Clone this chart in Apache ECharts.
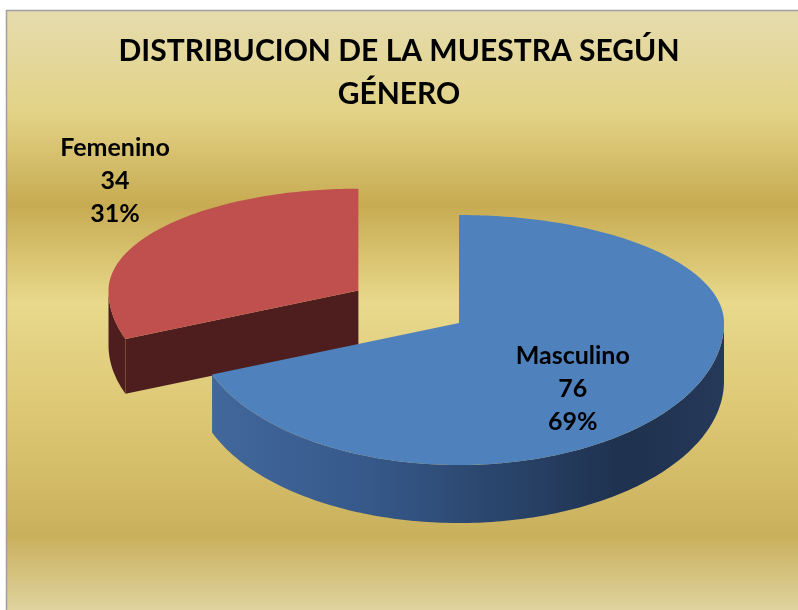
<!DOCTYPE html>
<html>
<head>
<meta charset="utf-8">
<script src="https://cdn.jsdelivr.net/npm/echarts@6/dist/echarts.min.js"></script>
<style>
  html, body { margin: 0; padding: 0; background: #fff; }
  #chart { width: 798px; height: 610px; }
</style>
</head>
<body>
<div id="chart"></div>
<script>
// datos del grafico
const categories = ['Masculino', 'Femenino'];
const counts = [76, 34];
const titleText = 'DISTRIBUCION DE LA MUESTRA SEGÚN\nGÉNERO';

// colores por sector
const topColors = ['#4f81bd', '#c0504d'];
const sideStops = [
  [[0, '#4d74ab'], [0.45, '#36598a'], [0.85, '#1e314e'], [1, '#26395a']],
  [[0, '#4e1e1f'], [1, '#4e1e1f']]
];

// layout del pastel 3d
const CX = 459, CY = 323;
const RX = 265, RY_FAR = 108, RY_NEAR = 142, DEPTH = 58;
const PERSP = 0.00176;
const explode = [0, 0.46];
const labelFactor = [[0.52, 0.46], [1.18, 1.9]];

const total = counts.reduce((a, b) => a + b, 0);
const rad = d => d * Math.PI / 180;

function pt(cx, cy, s, deg, dy) {
  const c = Math.cos(rad(deg));
  const ry = (c > 0 ? RY_FAR : RY_NEAR) * s;
  return [cx + RX * s * Math.sin(rad(deg)), cy - ry * c + (dy || 0)];
}

function arc(cx, cy, s, from, to, dy) {
  const pts = [];
  const n = Math.max(2, Math.ceil(Math.abs(to - from)));
  for (let k = 0; k <= n; k++) {
    pts.push(pt(cx, cy, s, from + (to - from) * k / n, dy));
  }
  return pts;
}

function renderItem(params, api) {
  const i = params.dataIndex;
  let start = 0;
  for (let j = 0; j < i; j++) start += counts[j];
  const a0 = start / total * 360;
  const a1 = (start + api.value(0)) / total * 360;
  const mid = (a0 + a1) / 2;
  const ex = explode[i];
  const cx = CX + Math.sin(rad(mid)) * ex * RX;
  const cy = CY - Math.cos(rad(mid)) * ex * (RY_FAR + RY_NEAR) / 2;
  const s = 1 + (cy - CY) * PERSP;
  const d = DEPTH * s;
  const zb = Math.round(cy);

  const sideFill = {
    type: 'linear', x: CX - RX - 120, y: 0, x2: CX + RX, y2: 0, global: true,
    colorStops: sideStops[i].map(st => ({ offset: st[0], color: st[1] }))
  };
  const children = [];

  // caras radiales
  const radial = (deg) => {
    const p = pt(cx, cy, s, deg);
    return {
      type: 'polygon', z2: zb,
      shape: { points: [[cx, cy], p, [p[0], p[1] + d], [cx, cy + d]] },
      style: { fill: sideStops[i][0][1] }
    };
  };
  if (Math.cos(rad(a0 - 90)) < -0.01) children.push(radial(a0));
  if (Math.cos(rad(a1 + 90)) < -0.01) children.push(radial(a1));

  // pared exterior visible (90..270)
  const lo = Math.max(a0, 90), hi = Math.min(a1, 270);
  if (hi > lo) {
    const pts = arc(cx, cy, s, lo, hi, 0).concat(arc(cx, cy, s, hi, lo, d));
    children.push({
      type: 'polygon', z2: zb + 1,
      shape: { points: pts },
      style: { fill: sideFill }
    });
  }

  // cara superior
  children.push({
    type: 'polygon', z2: zb + 2,
    shape: { points: [[cx, cy]].concat(arc(cx, cy, s, a0, a1, 0)) },
    style: { fill: topColors[i] }
  });

  // etiqueta
  const f = labelFactor[i];
  const c = Math.cos(rad(mid));
  const lx = cx + Math.sin(rad(mid)) * RX * s * f[0];
  const ly = cy - c * (c > 0 ? RY_FAR : RY_NEAR) * s * f[1] + (f[0] < 1 ? d / 2 : 0);
  children.push({
    type: 'text', z2: 1000,
    x: lx, y: ly,
    style: {
      text: categories[i] + '\n' + counts[i] + '\n' + Math.round(counts[i] / total * 100) + '%',
      fill: '#000', font: 'bold 25px Lato', lineHeight: 33,
      align: 'center', verticalAlign: 'middle'
    }
  });

  return { type: 'group', children: children };
}

const chart = echarts.init(document.getElementById('chart'));
chart.setOption({
  animation: false,
  backgroundColor: '#fff',
  graphic: [{
    type: 'rect', z: -10,
    shape: { x: 6.5, y: 10.5, width: 800, height: 610 },
    style: {
      stroke: '#a0a0a0', lineWidth: 1.5,
      fill: {
        type: 'linear', x: 0, y: 0, x2: 0, y2: 1,
        colorStops: [
          { offset: 0, color: '#e5dcae' },
          { offset: 0.17, color: '#e2d285' },
          { offset: 0.32, color: '#c7ab52' },
          { offset: 0.48, color: '#e8d98c' },
          { offset: 0.7, color: '#dac36f' },
          { offset: 0.86, color: '#c9b05c' },
          { offset: 1, color: '#e3d8a8' }
        ]
      }
    }
  }],
  title: {
    text: titleText,
    left: 'center',
    top: 25,
    textStyle: { fontFamily: 'Lato', fontWeight: 'bold', fontSize: 30, lineHeight: 43, color: '#000' }
  },
  series: [{
    type: 'custom',
    coordinateSystem: 'none',
    renderItem: renderItem,
    data: counts.map((v, k) => ({ name: categories[k], value: [v] }))
  }]
});
</script>
</body>
</html>
